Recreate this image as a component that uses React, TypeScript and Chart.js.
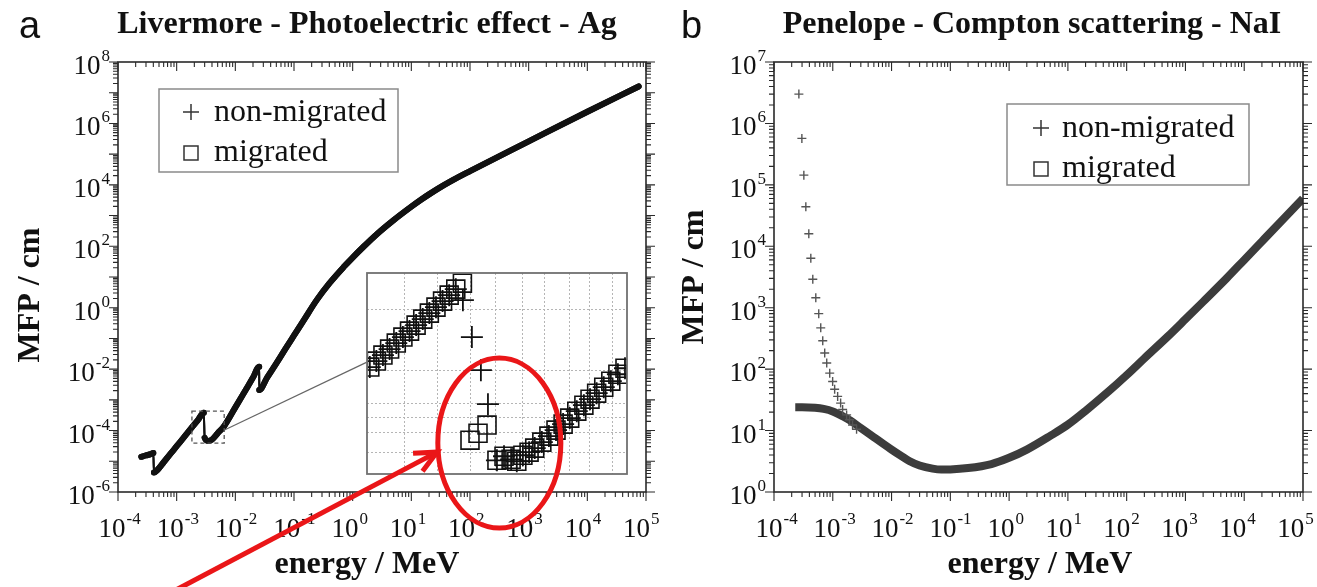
import React, { useEffect, useRef } from 'react';
import { Chart, registerables } from 'chart.js';

Chart.register(...registerables);

const W = 1317;
const H = 587;
const SERIF = '"Liberation Serif", "Times New Roman", serif';
const SANS = '"Liberation Sans", Arial, sans-serif';

// ---------- Panel a: Livermore - Photoelectric effect - Ag ----------
const livermoreEnergy = [
  2.5e-4, 3.0e-4, 3.6e-4, 4.0e-4, 4.1e-4, 4.6e-4, 6.0e-4, 8.0e-4, 1.0e-3, 1.4e-3,
  1.845e-3, 2.3e-3, 2.9e-3, 3.0e-3, 3.43e-3, 4.0e-3, 5.0e-3, 6.4e-3, 1.0e-2, 1.5e-2,
  2.0e-2, 2.55e-2, 2.56e-2, 3.5e-2, 5.0e-2, 7.0e-2, 0.1, 0.15, 0.245, 0.4,
  0.7, 1.0, 1.5, 2.5, 5, 10, 15, 20, 30, 50, 100, 1000, 1e4, 7.5e4,
];
const livermoreMFP = [
  1.4e-5, 1.55e-5, 1.7e-5, 1.85e-5, 4.3e-6, 5.0e-6, 9.3e-6, 1.83e-5, 3.1e-5, 6.8e-5,
  1.31e-4, 2.2e-4, 3.78e-4, 5.8e-5, 4.6e-5, 5.1e-5, 8.2e-5, 1.37e-4, 5.7e-4, 2.1e-3,
  5.3e-3, 1.2e-2, 2.1e-3, 5.4e-3, 1.55e-2, 4.3e-2, 0.125, 0.42, 1.8, 6.2,
  21, 43, 93, 234, 710, 1950, 3400, 4900, 7990, 1.4e4, 2.8e4, 2.6e5, 2.4e6, 1.6e7,
];

// inset (zoom of the L-edge region)
const insetRangeEnergy = [1.82e-3, 6.46e-3];
const insetRangeMFP = [3.9e-5, 4.27e-4];
const insetGridEnergy = [2.19e-3, 2.57e-3, 3.01e-3, 3.4e-3, 3.89e-3, 4.33e-3, 4.89e-3, 5.39e-3, 6.03e-3];
const insetGridMFP = [2.75e-4, 1.34e-4, 9.06e-5, 7.6e-5, 6.4e-5, 5.06e-5];

const insetMigratedEnergy = [
  1.845e-3, 1.905e-3, 1.967e-3, 2.032e-3, 2.099e-3, 2.168e-3, 2.239e-3, 2.312e-3, 2.388e-3, 2.466e-3,
  2.547e-3, 2.63e-3, 2.716e-3, 2.805e-3, 2.897e-3,
  3.006e-3, 3.126e-3, 3.266e-3,
  3.428e-3, 3.548e-3, 3.673e-3, 3.776e-3, 3.89e-3, 4.009e-3,
  4.121e-3, 4.266e-3, 4.416e-3, 4.571e-3, 4.732e-3, 4.887e-3, 5.058e-3, 5.236e-3, 5.395e-3, 5.572e-3,
  5.768e-3, 5.97e-3, 6.18e-3, 6.397e-3,
];
const insetMigratedMFP = [
  1.393e-4, 1.496e-4, 1.607e-4, 1.726e-4, 1.854e-4, 1.991e-4, 2.138e-4, 2.296e-4, 2.466e-4, 2.649e-4,
  2.844e-4, 3.055e-4, 3.281e-4, 3.524e-4, 3.784e-4,
  5.834e-5, 6.339e-5, 6.982e-5,
  4.592e-5, 4.819e-5, 4.645e-5, 4.539e-5, 4.875e-5, 5.058e-5,
  5.309e-5, 5.702e-5, 6.124e-5, 6.577e-5, 7.063e-5, 7.586e-5, 8.241e-5, 8.851e-5, 9.506e-5, 1.021e-4,
  1.096e-4, 1.178e-4, 1.279e-4, 1.374e-4,
];
const insetNonMigratedEnergy = [
  1.845e-3, 1.905e-3, 1.967e-3, 2.032e-3, 2.099e-3, 2.168e-3, 2.239e-3, 2.312e-3, 2.388e-3, 2.466e-3,
  2.547e-3, 2.63e-3, 2.716e-3, 2.805e-3,
  2.904e-3, 3.034e-3, 3.17e-3, 3.281e-3,
  3.428e-3, 3.548e-3, 3.673e-3, 3.776e-3, 3.89e-3, 4.009e-3,
  4.121e-3, 4.266e-3, 4.416e-3, 4.571e-3, 4.732e-3, 4.887e-3, 5.058e-3, 5.236e-3, 5.395e-3, 5.572e-3,
  5.768e-3, 5.97e-3, 6.18e-3, 6.397e-3,
];
const insetNonMigratedMFP = [
  1.393e-4, 1.496e-4, 1.607e-4, 1.726e-4, 1.854e-4, 1.991e-4, 2.138e-4, 2.296e-4, 2.466e-4, 2.649e-4,
  2.844e-4, 3.055e-4, 3.281e-4, 3.524e-4,
  3.09e-4, 1.991e-4, 1.343e-4, 8.954e-5,
  4.592e-5, 4.819e-5, 4.645e-5, 4.539e-5, 4.875e-5, 5.058e-5,
  5.309e-5, 5.702e-5, 6.124e-5, 6.577e-5, 7.063e-5, 7.586e-5, 8.241e-5, 8.851e-5, 9.506e-5, 1.021e-4,
  1.096e-4, 1.178e-4, 1.279e-4, 1.374e-4,
];

// annotation anchors (inset data coordinates)
const connectorEnergy = [6.4e-3, 1.75];
const connectorMFP = [1.03e-4, 1.69e-2];
const ellipseEnergy = [2.57e-3, 4.68e-3];
const ellipseMFP = [1.55e-4, 2.05e-5];
const arrowEnergy = [7.0e-4, 2.56e-3];
const arrowMFP = [9.5e-6, 5.06e-5];

// ---------- Panel b: Penelope - Compton scattering - NaI ----------
const penelopeMigratedEnergy = [
  2.3e-4, 3e-4, 5e-4, 7e-4, 1e-3, 1.5e-3, 2e-3, 3e-3, 5e-3, 7e-3,
  1e-2, 1.5e-2, 2e-2, 3e-2, 5e-2, 7e-2, 0.1, 0.2, 0.5, 1,
  2, 5, 10, 20, 50, 100, 200, 500, 1000, 2000,
  5000, 1e4, 2e4, 5e4, 1e5,
];
const penelopeMigratedMFP = [
  24, 24, 23.5, 22.5, 20.5, 17, 14.5, 11, 7.8, 6.2,
  4.9, 3.8, 3.2, 2.7, 2.4, 2.32, 2.33, 2.45, 2.85, 3.6,
  4.9, 8.2, 12.5, 21, 44, 80, 150, 340, 650, 1250,
  3000, 6000, 1.2e4, 3e4, 6e4,
];
const penelopeNonMigratedEnergy = [
  2.65e-4, 2.98e-4, 3.22e-4, 3.48e-4, 3.91e-4, 4.23e-4, 4.57e-4, 5.14e-4, 5.77e-4, 6.24e-4,
  6.75e-4, 7.29e-4, 7.89e-4, 8.87e-4, 9.95e-4, 1.076e-3, 1.21e-3, 1.36e-3, 1.47e-3, 1.72e-3,
  1.93e-3, 2.17e-3, 2.54e-3,
];
const penelopeNonMigratedMFP = [
  3.0e6, 5.7e5, 1.44e5, 4.4e4, 1.6e4, 6.4e3, 2.9e3, 1.45e3, 800, 470,
  290, 183, 126, 86, 63, 47, 36, 28, 22, 18,
  15, 12.3, 10.5,
];

// tick label exponents
const xTickExponents = [-4, -3, -2, -1, 0, 1, 2, 3, 4, 5];
const leftYTickExponents = [8, 6, 4, 2, 0, -2, -4, -6];
const rightYTickExponents = [7, 6, 5, 4, 3, 2, 1, 0];

const xy = (xs: number[], ys: number[]) => xs.map((x, i) => ({ x, y: ys[i] }));

function logTickValues(min: number, max: number) {
  const out: { v: number; major: boolean }[] = [];
  const e0 = Math.floor(Math.log10(min) + 1e-9);
  const e1 = Math.ceil(Math.log10(max) - 1e-9);
  for (let e = e0; e <= e1; e++) {
    for (let m = 1; m <= 9; m++) {
      const v = m * Math.pow(10, e);
      if (v >= min * 0.999 && v <= max * 1.001) out.push({ v, major: m === 1 });
    }
  }
  return out;
}

const BASE_PX = 27;
const SUP_PX = 17;

function drawPow(ctx: CanvasRenderingContext2D, exp: number, x: number, y: number, mode: 'x' | 'y') {
  ctx.font = `${BASE_PX}px ${SERIF}`;
  const wb = ctx.measureText('10').width;
  ctx.font = `${SUP_PX}px ${SERIF}`;
  const sup = String(exp);
  const ws = ctx.measureText(sup).width;
  const x0 = mode === 'x' ? x - wb / 2 : x - wb - ws - 1;
  ctx.textAlign = 'left';
  ctx.textBaseline = 'alphabetic';
  ctx.font = `${BASE_PX}px ${SERIF}`;
  ctx.fillText('10', x0, y);
  ctx.font = `${SUP_PX}px ${SERIF}`;
  ctx.fillText(sup, x0 + wb + 1, y - 13);
}

type DecorCfg = {
  title: string;
  titleX: number;
  letter: string;
  letterX: number;
  yExps: number[];
  xShift: [number, number];
  xTitleX: number;
  yTitleX: number;
  yTitleY: number;
  legend: { x: number; y: number; w: number; h: number; markX: number; textX: number; base1: number; base2: number };
  zoomBox?: boolean;
};

function decorPlugin(cfg: DecorCfg) {
  return {
    id: 'decor',
    afterDraw(chart: any) {
      const { ctx, chartArea: a } = chart;
      const xs = chart.scales.x;
      const ys = chart.scales.y;
      ctx.save();

      if (cfg.zoomBox) {
        const bx0 = xs.getPixelForValue(insetRangeEnergy[0]);
        const bx1 = xs.getPixelForValue(insetRangeEnergy[1]);
        const by0 = ys.getPixelForValue(insetRangeMFP[1]);
        const by1 = ys.getPixelForValue(insetRangeMFP[0]);
        ctx.strokeStyle = '#555';
        ctx.lineWidth = 1.3;
        ctx.setLineDash([4, 3]);
        ctx.strokeRect(bx0, by0, bx1 - bx0, by1 - by0);
        ctx.setLineDash([]);
        ctx.strokeStyle = '#666';
        ctx.lineWidth = 1.2;
        ctx.beginPath();
        ctx.moveTo(xs.getPixelForValue(connectorEnergy[0]), ys.getPixelForValue(connectorMFP[0]));
        ctx.lineTo(xs.getPixelForValue(connectorEnergy[1]), ys.getPixelForValue(connectorMFP[1]));
        ctx.stroke();
      }

      // frame
      ctx.strokeStyle = '#2a2a2a';
      ctx.lineWidth = 1.6;
      ctx.strokeRect(a.left, a.top, a.right - a.left, a.bottom - a.top);
      ctx.lineWidth = 1.1;
      ctx.beginPath();
      for (const t of logTickValues(xs.min, xs.max)) {
        const px = xs.getPixelForValue(t.v);
        const L = t.major ? 9 : 5;
        ctx.moveTo(px, a.bottom);
        ctx.lineTo(px, a.bottom + L);
        ctx.moveTo(px, a.top);
        ctx.lineTo(px, a.top + L);
      }
      for (const t of logTickValues(ys.min, ys.max)) {
        const py = ys.getPixelForValue(t.v);
        const L = t.major ? 9 : 5;
        ctx.moveTo(a.left - L, py);
        ctx.lineTo(a.left, py);
        ctx.moveTo(a.right, py);
        ctx.lineTo(a.right + L, py);
      }
      ctx.stroke();

      // tick labels
      ctx.fillStyle = '#111';
      xTickExponents.forEach((e, i) => {
        const px = xs.getPixelForValue(Math.pow(10, e)) + cfg.xShift[0] + cfg.xShift[1] * i;
        drawPow(ctx, e, px, a.bottom + 45, 'x');
      });
      for (const e of cfg.yExps) drawPow(ctx, e, a.left - 8, ys.getPixelForValue(Math.pow(10, e)) + 12, 'y');

      // titles
      ctx.textBaseline = 'alphabetic';
      ctx.textAlign = 'center';
      ctx.font = `bold 32px ${SERIF}`;
      ctx.fillText(cfg.title, cfg.titleX, 33);
      ctx.fillText('energy / MeV', cfg.xTitleX, 573);
      ctx.save();
      ctx.translate(cfg.yTitleX, cfg.yTitleY);
      ctx.rotate(-Math.PI / 2);
      ctx.textBaseline = 'middle';
      ctx.fillText('MFP / cm', 0, 0);
      ctx.restore();
      ctx.textAlign = 'left';
      ctx.font = `38px ${SANS}`;
      ctx.fillText(cfg.letter, cfg.letterX, 38);

      // legend
      const L = cfg.legend;
      ctx.strokeStyle = '#8a8a8a';
      ctx.lineWidth = 1.5;
      ctx.strokeRect(L.x, L.y, L.w, L.h);
      ctx.font = `32px ${SERIF}`;
      ctx.fillStyle = '#111';
      ctx.fillText(chart.data.datasets[0].label, L.textX, L.base1);
      ctx.fillText(chart.data.datasets[1].label, L.textX, L.base2);
      ctx.strokeStyle = '#333';
      ctx.lineWidth = 1.5;
      ctx.beginPath();
      ctx.moveTo(L.markX - 8, L.base1 - 9);
      ctx.lineTo(L.markX + 8, L.base1 - 9);
      ctx.moveTo(L.markX, L.base1 - 17);
      ctx.lineTo(L.markX, L.base1 - 1);
      ctx.stroke();
      ctx.strokeRect(L.markX - 7, L.base2 - 15, 14, 14);
      ctx.restore();
    },
  };
}

const insetPlugin = {
  id: 'insetDecor',
  beforeDraw(chart: any) {
    const { ctx, chartArea: a } = chart;
    ctx.save();
    ctx.fillStyle = '#fff';
    ctx.fillRect(a.left, a.top, a.right - a.left, a.bottom - a.top);
    ctx.restore();
  },
  afterDraw(chart: any) {
    const { ctx, chartArea: a } = chart;
    const xs = chart.scales.x;
    const ys = chart.scales.y;
    ctx.save();
    ctx.strokeStyle = '#707070';
    ctx.lineWidth = 1.8;
    ctx.strokeRect(a.left, a.top, a.right - a.left, a.bottom - a.top);

    const red = 'rgb(234,22,24)';
    const ex0 = xs.getPixelForValue(ellipseEnergy[0]);
    const ex1 = xs.getPixelForValue(ellipseEnergy[1]);
    const ey0 = ys.getPixelForValue(ellipseMFP[0]);
    const ey1 = ys.getPixelForValue(ellipseMFP[1]);
    ctx.strokeStyle = red;
    ctx.lineWidth = 5;
    ctx.beginPath();
    ctx.ellipse((ex0 + ex1) / 2, (ey0 + ey1) / 2, Math.abs(ex1 - ex0) / 2, Math.abs(ey1 - ey0) / 2, 0, 0, Math.PI * 2);
    ctx.stroke();

    const tx = xs.getPixelForValue(arrowEnergy[0]);
    const ty = ys.getPixelForValue(arrowMFP[0]);
    const hx = xs.getPixelForValue(arrowEnergy[1]);
    const hy = ys.getPixelForValue(arrowMFP[1]);
    const ang = Math.atan2(ty - hy, tx - hx);
    const arm = 24;
    const spread = (25 * Math.PI) / 180;
    ctx.lineWidth = 5;
    ctx.lineCap = 'butt';
    ctx.beginPath();
    ctx.moveTo(tx, ty);
    ctx.lineTo(hx, hy);
    ctx.stroke();
    ctx.beginPath();
    ctx.moveTo(hx + arm * Math.cos(ang + spread), hy + arm * Math.sin(ang + spread));
    ctx.lineTo(hx, hy);
    ctx.lineTo(hx + arm * Math.cos(ang - spread), hy + arm * Math.sin(ang - spread));
    ctx.stroke();
    ctx.restore();
  },
};

const commonOptions = (pad: { left: number; right: number; top: number; bottom: number }) => ({
  responsive: false,
  animation: false as const,
  events: [] as any[],
  layout: { padding: pad },
  plugins: { legend: { display: false }, tooltip: { enabled: false }, title: { display: false } },
});

function leftConfig(): any {
  const seg = { borderWidth: (c: any) => (c.p1.parsed.y < c.p0.parsed.y * 0.6 ? 2 : undefined) };
  const line = (label: string) => ({
    label,
    data: xy(livermoreEnergy, livermoreMFP),
    showLine: true,
    borderColor: '#111',
    borderWidth: 6,
    pointRadius: 0,
    cubicInterpolationMode: 'monotone',
    borderCapStyle: 'round',
    borderJoinStyle: 'round',
    segment: seg,
  });
  return {
    type: 'scatter',
    data: { datasets: [line('non-migrated'), line('migrated')] },
    options: {
      ...commonOptions({ left: 118, right: W - 646, top: 62, bottom: H - 492 }),
      scales: {
        x: { type: 'logarithmic', min: 1e-4, max: 1e5, display: false },
        y: { type: 'logarithmic', min: 1e-6, max: 1e8, display: false },
      },
    },
    plugins: [
      decorPlugin({
        title: 'Livermore - Photoelectric effect - Ag',
        titleX: 367,
        letter: 'a',
        letterX: 19,
        yExps: leftYTickExponents,
        xShift: [-6, -0.4],
        xTitleX: 367,
        yTitleX: 31,
        yTitleY: 295,
        legend: { x: 159, y: 89, w: 239, h: 83, markX: 191, textX: 214, base1: 121, base2: 161 },
        zoomBox: true,
      }),
    ],
  };
}

function rightConfig(): any {
  return {
    type: 'scatter',
    data: {
      datasets: [
        {
          label: 'non-migrated',
          data: xy(penelopeNonMigratedEnergy, penelopeNonMigratedMFP),
          showLine: false,
          pointStyle: 'cross',
          pointRadius: 4.5,
          borderColor: '#555',
          borderWidth: 1.4,
        },
        {
          label: 'migrated',
          data: xy(penelopeMigratedEnergy, penelopeMigratedMFP),
          showLine: true,
          borderColor: '#3c3c3c',
          borderWidth: 8,
          pointRadius: 0,
          cubicInterpolationMode: 'monotone',
          borderCapStyle: 'butt',
        },
      ],
    },
    options: {
      ...commonOptions({ left: 774, right: W - 1303, top: 62, bottom: H - 492 }),
      scales: {
        x: { type: 'logarithmic', min: 1e-4, max: 1e5, display: false },
        y: { type: 'logarithmic', min: 1, max: 1e7, display: false },
      },
    },
    plugins: [
      decorPlugin({
        title: 'Penelope - Compton scattering - NaI',
        titleX: 1032,
        letter: 'b',
        letterX: 681,
        yExps: rightYTickExponents,
        xShift: [-5, -0.8],
        xTitleX: 1040,
        yTitleX: 695,
        yTitleY: 277,
        legend: { x: 1007, y: 104, w: 242, h: 81, markX: 1041, textX: 1062, base1: 137, base2: 177 },
      }),
    ],
  };
}

function insetConfig(): any {
  const gridScale = (min: number, max: number, grid: number[], horizontal: boolean) => ({
    type: 'logarithmic',
    min,
    max,
    afterBuildTicks: (s: any) => {
      s.ticks = grid.map((v) => ({ value: v }));
    },
    afterFit: (s: any) => {
      if (horizontal) s.height = 0;
      else s.width = 0;
    },
    ticks: { display: false },
    grid: { drawTicks: false, color: '#b5b5b5', lineWidth: 1 },
    border: { display: false, dash: [2, 2] },
  });
  return {
    type: 'scatter',
    data: {
      datasets: [
        {
          label: 'non-migrated',
          data: xy(insetNonMigratedEnergy, insetNonMigratedMFP),
          showLine: false,
          pointStyle: 'cross',
          pointRadius: 11,
          borderColor: '#111',
          borderWidth: 1.8,
        },
        {
          label: 'migrated',
          data: xy(insetMigratedEnergy, insetMigratedMFP),
          showLine: false,
          pointStyle: 'rect',
          pointRadius: 12.7,
          borderColor: '#111',
          backgroundColor: 'rgba(0,0,0,0)',
          borderWidth: 1.6,
        },
      ],
    },
    options: {
      ...commonOptions({ left: 367, right: W - 627, top: 273, bottom: H - 474 }),
      scales: {
        x: gridScale(insetRangeEnergy[0], insetRangeEnergy[1], insetGridEnergy, true),
        y: gridScale(insetRangeMFP[0], insetRangeMFP[1], insetGridMFP, false),
      },
    },
    plugins: [insetPlugin],
  };
}

export default function App() {
  const leftRef = useRef<HTMLCanvasElement>(null);
  const rightRef = useRef<HTMLCanvasElement>(null);
  const insetRef = useRef<HTMLCanvasElement>(null);

  useEffect(() => {
    const charts = [
      new Chart(leftRef.current as HTMLCanvasElement, leftConfig()),
      new Chart(rightRef.current as HTMLCanvasElement, rightConfig()),
      new Chart(insetRef.current as HTMLCanvasElement, insetConfig()),
    ];
    return () => charts.forEach((c) => c.destroy());
  }, []);

  const cs: React.CSSProperties = { position: 'absolute', left: 0, top: 0, width: W, height: H };
  return (
    <div style={{ position: 'absolute', left: 0, top: 0, width: W, height: H, background: '#fff', overflow: 'hidden' }}>
      <canvas ref={leftRef} width={W} height={H} style={cs} />
      <canvas ref={rightRef} width={W} height={H} style={cs} />
      <canvas ref={insetRef} width={W} height={H} style={cs} />
    </div>
  );
}
